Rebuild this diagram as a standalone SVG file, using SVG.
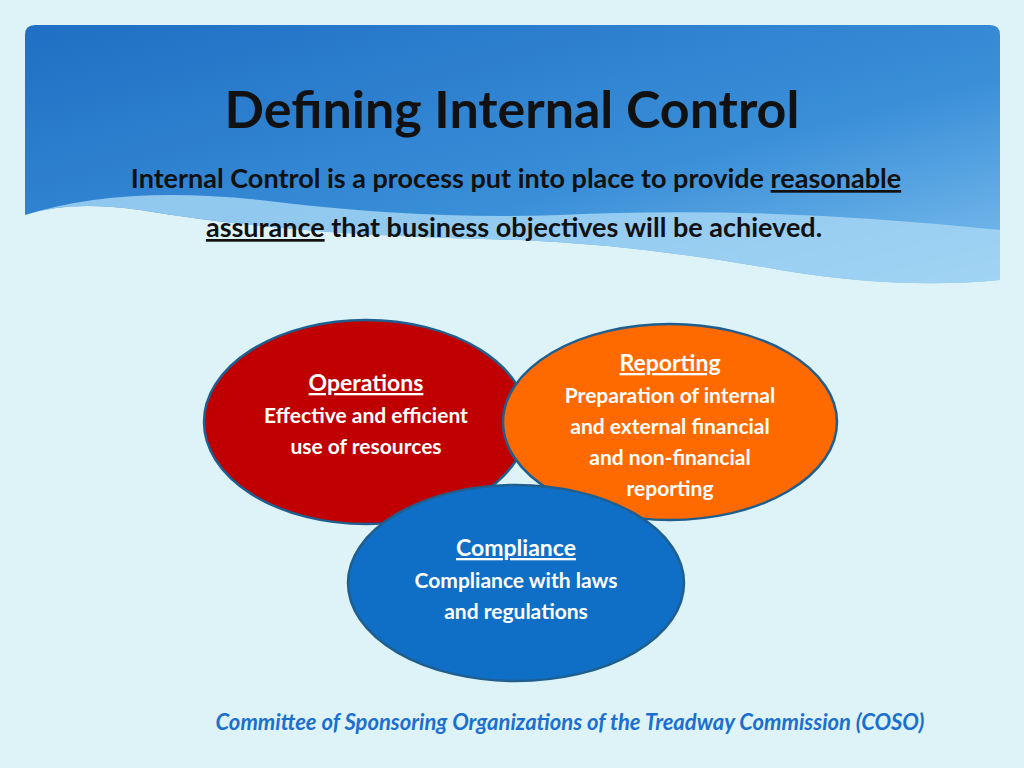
<svg xmlns="http://www.w3.org/2000/svg" width="1024" height="768" viewBox="0 0 1024 768">
<defs>
<linearGradient id="hdr" x1="0" y1="0" x2="1" y2="1">
<stop offset="0" stop-color="#1f6fc4"/><stop offset="0.6" stop-color="#3a8fd8"/><stop offset="1" stop-color="#7fc0ee"/>
</linearGradient>
<style>
text{font-family:Lato,"Open Sans","Liberation Sans",sans-serif;font-weight:bold;text-anchor:middle}
.w{fill:#fff;font-size:21px}
.h{fill:#fff;font-size:23px;text-decoration:underline}
.e{stroke:#1f5f8f;stroke-width:2.5}
</style>
</defs>
<rect width="1024" height="768" fill="#ddf3f8"/>
<g id="header">
<path d="M35 25 H990 Q1000 25 1000 35 V280 Q900 290 780 270 Q640 245 520 240 Q420 238 330 232 Q230 225 140 210 Q70 200 25 215 V35 Q25 25 35 25 Z" fill="url(#hdr)"/>
<path d="M25 215 Q120 185 260 200 Q420 220 560 215 Q760 205 1000 230 V280 Q900 290 780 270 Q640 245 520 240 Q420 238 330 232 Q230 225 140 210 Q70 200 25 215Z" fill="#a9d8f5" opacity="0.8"/>
<text x="512" y="128" style="font-size:52px;fill:#111">Defining Internal Control</text>
<text x="516" y="188" style="font-size:27px;fill:#111">Internal Control is a process put into place to provide <tspan text-decoration="underline">reasonable</tspan></text>
<text x="514" y="237" style="font-size:27px;fill:#111"><tspan text-decoration="underline">assurance</tspan> that business objectives will be achieved.</text>
</g>
<g id="operations">
<ellipse class="e" cx="366" cy="422" rx="162" ry="102" fill="#c00000"/>
<text class="h" x="366" y="391">Operations</text>
<text class="w" x="366" y="423">Effective and efficient</text>
<text class="w" x="366" y="454">use of resources</text>
</g>
<g id="reporting">
<ellipse class="e" cx="670" cy="422" rx="167" ry="98" fill="#ff6a00"/>
<text class="h" x="670" y="371">Reporting</text>
<text class="w" x="670" y="403">Preparation of internal</text>
<text class="w" x="670" y="434">and external financial</text>
<text class="w" x="670" y="465">and non-financial</text>
<text class="w" x="670" y="496">reporting</text>
</g>
<g id="compliance">
<ellipse class="e" cx="516" cy="583" rx="168" ry="98" fill="#0f6fc6"/>
<text class="h" x="516" y="556">Compliance</text>
<text class="w" x="516" y="588">Compliance with laws</text>
<text class="w" x="516" y="619">and regulations</text>
</g>
<g id="connectors"/>
<text x="570" y="730" style="font-size:22px;fill:#1a6fd0;font-style:italic">Committee of Sponsoring Organizations of the Treadway Commission (COSO)</text>
</svg>
